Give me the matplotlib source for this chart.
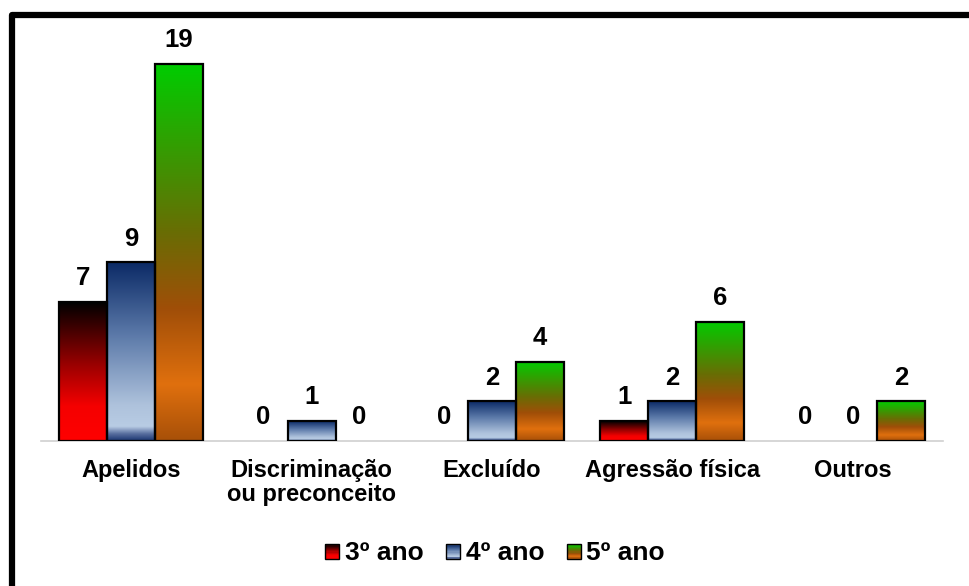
import numpy as np
import matplotlib
matplotlib.use("Agg")
import matplotlib.pyplot as plt
from matplotlib.colors import LinearSegmentedColormap
from matplotlib.patches import Rectangle
from matplotlib.legend_handler import HandlerBase
from matplotlib.lines import Line2D

plt.rcParams["font.family"] = ["Liberation Sans", "DejaVu Sans"]
plt.rcParams["font.weight"] = "bold"

categories = ["Apelidos", "Discriminação\nou preconceito", "Excluído", "Agressão física", "Outros"]
series_names = ["3º ano", "4º ano", "5º ano"]
ano3 = [7, 0, 0, 1, 0]
ano4 = [9, 1, 2, 2, 0]
ano5 = [19, 0, 4, 6, 2]
series_values = [ano3, ano4, ano5]

# vertical gradients, listed from bottom (0) to top (1)
gradients = [
    LinearSegmentedColormap.from_list("g3", [(0.0, "#ff0000"), (0.25, "#f50000"),
                                             (0.55, "#9a0000"), (1.0, "#000000")]),
    LinearSegmentedColormap.from_list("g4", [(0.0, "#1a3570"), (0.04, "#5a70a0"),
                                             (0.08, "#b8cce4"), (0.2, "#aec2dc"),
                                             (0.6, "#5a78a8"), (1.0, "#0b2a66")]),
    LinearSegmentedColormap.from_list("g5", [(0.0, "#a85008"), (0.15, "#e0700e"),
                                             (0.35, "#a04e08"), (0.55, "#6a6c04"),
                                             (1.0, "#00cc00")]),
]

W, H = 969, 586
fig = plt.figure(figsize=(W / 100, H / 100), dpi=100)

unit = 19.84  # pixels per count
ymax = 20
ax_left, ax_right, ax_base = 41, 943, 441
ax = fig.add_axes([ax_left / W, (H - ax_base) / H, (ax_right - ax_left) / W,
                   ymax * unit / H])

x = np.arange(len(categories))
bw = 0.266
grad = np.linspace(0, 1, 256).reshape(-1, 1)

for i, (vals, cmap) in enumerate(zip(series_values, gradients)):
    offs = (i - 1) * bw
    bars = ax.bar(x + offs, vals, width=bw, facecolor="none", edgecolor="black",
                  linewidth=1.6, zorder=3)
    for rect, v in zip(bars, vals):
        if v > 0:
            x0, y0 = rect.get_x(), rect.get_y()
            ax.imshow(grad, cmap=cmap, origin="lower", aspect="auto",
                      extent=(x0, x0 + rect.get_width(), y0, y0 + rect.get_height()),
                      zorder=2, interpolation="bilinear")
        else:
            rect.set_edgecolor("none")
        ax.annotate(str(v), (rect.get_x() + rect.get_width() / 2, v),
                    xytext=(0, 8.5), textcoords="offset points", ha="center",
                    va="bottom", fontsize=18.5, fontweight="bold")

ax.set_xlim(-0.5, len(categories) - 0.5)
ax.set_ylim(0, ymax)
for s in ["top", "right", "left"]:
    ax.spines[s].set_visible(False)
ax.spines["bottom"].set_color("#d0d0d0")
ax.spines["bottom"].set_linewidth(1.2)
ax.set_yticks([])
ax.set_xticks(x)
ax.set_xticklabels(categories, fontsize=17, fontweight="bold", linespacing=1.05)
ax.tick_params(axis="x", length=0, pad=13)


class GradientHandler(HandlerBase):
    def __init__(self, cmap):
        super().__init__()
        self.cmap = cmap

    def create_artists(self, legend, orig_handle, xdescent, ydescent, width,
                       height, fontsize, trans):
        size = min(width, height)
        x0 = width - size
        n = 12
        arts = []
        for k in range(n):
            arts.append(Rectangle((x0, -ydescent + size * k / n), size, size / n,
                                  facecolor=self.cmap((k + 0.5) / n),
                                  edgecolor="none", transform=trans))
        arts.append(Rectangle((x0, -ydescent), size, size, facecolor="none",
                              edgecolor="black", linewidth=1.0, transform=trans))
        return arts


handles = [Rectangle((0, 0), 1, 1) for _ in series_names]
fig.legend(handles, series_names, loc="center", bbox_to_anchor=(495 / W, 1 - 553 / H),
           ncol=3, frameon=False, prop={"size": 19, "weight": "bold"},
           handlelength=0.55, handleheight=0.55, handletextpad=0.2,
           columnspacing=0.85,
           handler_map={h: GradientHandler(c) for h, c in zip(handles, gradients)})

# outer frame (left and top edges)
frame = Line2D([12 / W, 12 / W, 1.02], [-0.02, 1 - 15 / H, 1 - 15 / H],
               transform=fig.transFigure, color="black", linewidth=4.5,
               solid_joinstyle="round")
fig.add_artist(frame)

fig.savefig("out.png", dpi=100, facecolor="white")
